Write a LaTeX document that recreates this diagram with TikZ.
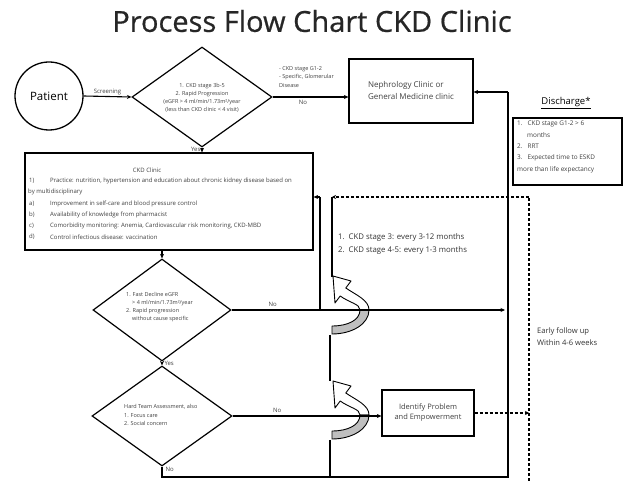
\documentclass[tikz,border=0pt]{standalone}
\usepackage{fontspec}
\setmainfont{Open Sans}
\newfontfamily\titlefont[FakeBold=0.6]{Open Sans}
\usetikzlibrary{arrows.meta,shapes.geometric}
\begin{document}
\begin{tikzpicture}[x=1pt,y=-1pt,
  ln/.style={line width=1.1pt},
  arr/.style={line width=1.1pt,-{Stealth[length=4.5pt,width=4pt]}},
  dsh/.style={line width=1.1pt,dash pattern=on 3pt off 2pt},
  box/.style={draw,line width=1.2pt,inner sep=0pt},
  dia/.style={draw,line width=1.2pt,diamond,inner sep=0pt},
  tiny/.style={inner sep=0pt,font=\fontsize{5.5}{6.6}\selectfont,text=black!75},
  small/.style={inner sep=0pt,font=\fontsize{6}{7}\selectfont,text=black!75},
  mid/.style={inner sep=0pt,font=\fontsize{7.8}{9}\selectfont,text=black!80},
  uturn/.pic={
    \fill[white] (15.8,12) -- (21,5) -- (3,0) -- (5,27) -- (10.2,20)
       .. controls (20,27) and (30,28) .. (30,34) -- (39,34)
       .. controls (39,24) and (26,19) .. (15.8,12) -- cycle;
    \draw[line width=0.9pt,line join=round] (15.8,12) -- (21,5) -- (3,0) -- (5,27) -- (10.2,20)
       .. controls (20,27) and (30,28) .. (30,34) -- (39,34)
       .. controls (39,24) and (26,19) .. (15.8,12) -- cycle;
    \draw[line width=0.9pt,fill=black!25,line join=round] (39,34) .. controls (39,48) and (22,58) .. (2,58)
       -- (2,50) .. controls (18,50) and (30,44) .. (30,34) -- cycle;
  }]
\useasboundingbox[fill=white] (0,0) rectangle (627,481);

% title
\node[inner sep=0pt,font=\titlefont\fontsize{29}{33}\selectfont,text=black!85] (title) at (312,21) {Process Flow Chart CKD Clinic};

% patient
\node[draw,circle,line width=1.3pt,minimum size=68pt,inner sep=0pt,font=\fontsize{11.5}{13}\selectfont] (patient) at (49,96) {Patient};

% diamonds
\node[dia,minimum width=140pt,minimum height=100pt] (d1) at (202,97) {};
\node[dia,minimum width=138pt,minimum height=102pt] (d2) at (162,310) {};
\node[dia,minimum width=140pt,minimum height=100pt] (d3) at (162,416) {};

\node[tiny,align=center] (d1t) at (202,98) {1. CKD stage 3b-5\\[1.5pt]2. Rapid Progression\\[1.5pt](eGFR > 4 ml/min/1.73m²/year\\[1.5pt](less than CKD clinic < 4 visit)};
\node[tiny,align=left,anchor=west] (d2t) at (126,307) {1. Fast Decline eGFR\\[1.5pt]\hspace*{6pt}> 4 ml/min/1.73m²/year\\[1.5pt]2. Rapid progression\\[1.5pt]\hspace*{6pt}without cause specific};
\node[tiny,align=left,anchor=west] (d3t) at (124,415) {Hard Team Assessment, also\\[2pt]1. Focus care\\[2pt]2. Social concern};

% boxes
\node[box,minimum width=124pt,minimum height=64pt,font=\fontsize{8}{12}\selectfont,align=left,text=black!75] (neph) at (411,91) {Nephrology Clinic or\\General Medicine clinic};
\node[box,minimum width=109pt,minimum height=67pt] (dis) at (567.5,151.5) {};
\node[inner sep=0pt,font=\fontsize{6.4}{11.3}\selectfont,text=black!75,anchor=north west,align=left] (dist) at (517,121) {1.\hspace{5pt}CKD stage G1-2 > 6\\\hspace*{10pt}months\\2.\hspace{5pt}RRT\\3.\hspace{5pt}Expected time to ESKD\\more than life expectancy};
\node[inner sep=0pt,font=\fontsize{9.5}{11}\selectfont] (dish) at (566,103) {\underline{Discharge*}};

\node[box,minimum width=288pt,minimum height=97pt] (ckd) at (169,201.5) {};
\node[small] (ckdh) at (147,170) {CKD Clinic};
\node[small,anchor=west] (l1a) at (29,181) {1)};
\node[small,anchor=west] (l1) at (50,181) {Practice: nutrition, hypertension and education about chronic kidney disease based on};
\node[small,anchor=west] (l1b) at (28,192) {by multidisciplinary};
\node[small,anchor=west] (la) at (29,204) {a)};
\node[small,anchor=west] (lat) at (50,204) {Improvement in self-care and blood pressure control};
\node[small,anchor=west] (lb) at (29,215) {b)};
\node[small,anchor=west] (lbt) at (50,215) {Availability of knowledge from pharmacist};
\node[small,anchor=west] (lc) at (29,226) {c)};
\node[small,anchor=west] (lct) at (50,226) {Comorbidity monitoring: Anemia, Cardiovascular risk monitoring, CKD-MBD};
\node[small,anchor=west] (ld) at (29,237) {d)};
\node[small,anchor=west] (ldt) at (50,237) {Control infectious disease: vaccination};

\node[box,minimum width=92pt,minimum height=46pt,font=\fontsize{7.5}{10}\selectfont,align=center,text=black!75] (iden) at (428,413) {Identify Problem\\and Empowerment};

% free texts
\node[mid,anchor=west,align=left] (fu) at (338,244) {1.\hspace{4pt}CKD stage 3: every 3-12 months\\[4pt]2.\hspace{4pt}CKD stage 4-5: every 1-3 months};
\node[inner sep=0pt,font=\fontsize{7.6}{9}\selectfont,text=black!80,anchor=west,align=left] (early) at (537,337) {Early follow up\\[3pt]Within 4-6 weeks};

% coordinates
\coordinate (r1) at (508,92);
\coordinate (r2) at (508,477);
\coordinate (b1) at (162,477);
\coordinate (c1) at (320,197);
\coordinate (c2) at (320,310);
\coordinate (e1) at (505,310);
\coordinate (q1) at (529,197);
\coordinate (q2) at (529,481);
\coordinate (q3) at (529,413);
\coordinate (s1) at (332,197);
\coordinate (s2) at (332,277);
\coordinate (v1) at (330,335);
\coordinate (v2) at (330,381);
\coordinate (v3) at (330,440);

% curved arrows
\pic at (330,276) {uturn};
\pic at (330,381) {uturn};

% connectors
\draw[arr] (patient.east) -- node[above=1pt,inner sep=0pt,small] (scr) {Screening} (d1.west);
\draw[arr] (d1.east) -- node[below=3pt,inner sep=0pt,small,pos=0.4] (no1) {No} (d1.east -| neph.west);
\node[tiny,anchor=west,align=left] (g12) at (279,77) {- CKD stage G1-2\\[1.5pt]- Specific, Glomerular\\[1.5pt]Disease};
\draw[arr] (d1.south) -- node[left=1pt,inner sep=0pt,small,pos=0.3] (yes1) {Yes} (d1.south |- ckd.north);
\draw[arr] (ckd.south -| d2.north) -- (d2.north);
\draw[arr] (d2.south) -- node[right=2pt,inner sep=0pt,small] (yes2) {Yes} (d3.north);
\draw[ln] (d3.south) -- node[right=3pt,inner sep=0pt,small,pos=0.3] (no3) {No} (b1) -- (r2) -- (r1);
\draw[arr] (r1) -- (r1 -| neph.east);
\draw[arr] (d2.east) -- node[above=3pt,inner sep=0pt,small,pos=0.15] (no2) {No} (e1);
\draw[arr] (d3.east) -- node[above=3pt,inner sep=0pt,small,pos=0.3] (no3b) {No} (d3.east -| iden.west);
\draw[ln] (c2) -- (c1);
\draw[arr] (c1) -- (c1 -| ckd.east);
\draw[ln] (s1) -- (s2);
\draw[ln] (v1) -- (v2);
\draw[ln] (v3) -- (330,477);
\draw[dsh] (q2) -- (q1);
\draw[dsh,-{Stealth[length=4pt,width=4pt]}] (q1) -- (s1);
\draw[dsh,-{Stealth[length=4pt,width=4pt]}] (iden.east) -- (q3);
\end{tikzpicture}
\end{document}
